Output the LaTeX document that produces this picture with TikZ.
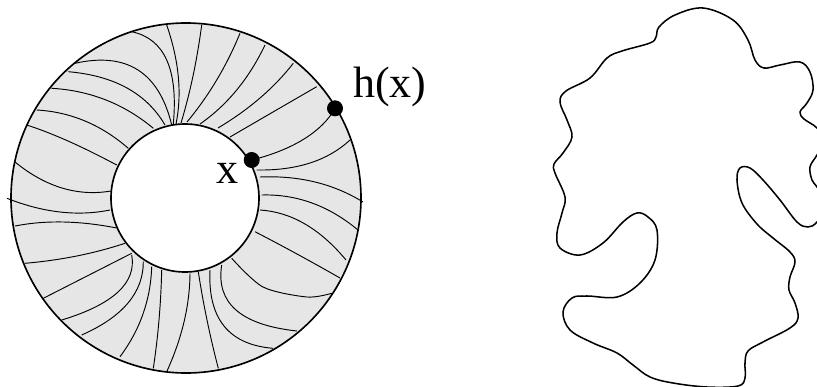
\documentclass[tikz,border=0pt]{standalone}
\usepackage{fontspec}
\setmainfont{Liberation Serif}
\definecolor{ringgray}{HTML}{E6E6E6}

\begin{document}
\begin{tikzpicture}[x=0.3mm, y=-0.3mm,
  fiber/.style={black, line width=0.8pt},
  rim/.style={black, line width=1.4pt},
  dot/.style={circle, fill=black, inner sep=0pt, minimum size=4.8mm},
  lbl/.style={font=\fontsize{37.5}{44}\selectfont, inner sep=0pt}]

% Frame
\useasboundingbox (0,0) rectangle (817,387);
\clip (0,0) rectangle (817,387);

% ================================================================
% LEFT: annulus with its fibres
% ================================================================
\coordinate (c-out) at (186,198);
\coordinate (c-in) at (185,198);

\fill[ringgray, even odd rule] (c-out) circle[radius=175] (c-in) circle[radius=74];

% fibres: inner end / point half way / outer end
\foreach \ax/\ay/\bx/\by/\cx/\cy
  [evaluate=\ax as \pa using {(4*\bx-\cx)/3},
   evaluate=\ay as \pb using {(4*\by-\cy)/3},
   evaluate=\cx as \qa using {(4*\bx-\ax)/3},
   evaluate=\cy as \qb using {(4*\by-\ay)/3}] in {
    176/124/178.3/76.7/166.7/25,
    181/123/193/76/201.7/25,
    187/122/216.7/80/240/33.3,
    200/124/236.7/90/265/45,
    218/128/260/98/293.3/63.3,
    230/137/273/112/316.7/86.7,
    256.7/170/310/163/350/140,
    260/177/315/182/363/202,
    261.7/195/312/203/358/230,
    260/210/305/224/346/260,
    255/231.7/297/254/340/278,
    221.7/265/236/310/297/331,
    210/270/224/326/273/348.3,
    198.3/271.7/207/320/218.3/368.3,
    190/273.3/184/322/166.7/371.7,
    161.7/270/159/320/153.3/368.3,
    151.7/266.7/143/314/120/356.7,
    143.3/261.7/128/303/81.7/335,
    131.7/255/118/292/61.7/320,
    131.7/253.3/87.5/275.8/43.3/298.3,
    125/243.3/76.7/256/25/263.3,
    116.7/228/63.3/222/15/226,
    110/210/60/212/7/198.3,
    111/191/62/188/15/162,
    116.7/165/68/141/26.7/125,
    128.3/148.3/85/121/36.7/110,
    153.3/128.3/106/100/51.7/88.3,
    165/125/127/88/68.3/71.7,
    171.7/125/138/70/75/63.3,
    173.3/124/166.7/60/131.7/31.7}
  \draw[fiber] (\ax,\ay) .. controls (\pa,\pb) and (\qa,\qb) .. (\cx,\cy);

\draw[fiber] plot[smooth] coordinates {(231.7,258.3) (263,287) (307,297) (331.7,293.3)};

% hole and rims
\fill[white] (c-in) circle[radius=74];
\draw[rim] (c-in) circle[radius=74];
\draw[rim] (c-out) circle[radius=175];

% the point and its image
\node[dot] (xdot) at (251.7,160) {};
\node[dot] (hdot) at (335,108.3) {};
\draw[fiber] (xdot.center) .. controls (292,150) and (322,132) .. (hdot.center);

\node[lbl, anchor=base] (x-label) at (227,183) {x};
\node[lbl, anchor=base west] (hx-label) at (353,97) {h(x)};

% ================================================================
% RIGHT: wiggly closed curve
% ================================================================
\draw[line width=1.3pt] plot[smooth cycle, tension=0.6] coordinates {
  (703,8) (733,20) (748,40) (755,60) (764,68) (780,65) (800,62)
  (810,72) (813,90) (807,103) (800,112) (804,119) (817,128)
  (824,141) (817,155) (810,167) (812,180) (817,187) (828,205)
  (817,222) (808,227) (797,222) (780,200) (763,180) (750,168)
  (740,168) (737,180) (742,203) (757,224) (773,238) (790,252)
  (795,262) (790,277) (789,290) (795,303) (798,318) (790,328)
  (763,342) (748,351) (745,363) (745,378) (738,386) (707,387)
  (673,383) (650,377) (633,365) (617,353) (593,343) (570,330)
  (563,312) (572,298) (587,296) (617,297) (640,283) (655,260)
  (657,230) (648,217) (637,213) (623,222) (603,243) (580,255)
  (560,248) (557,233) (562,213) (565,197) (555,173) (554,164)
  (563,153) (572,137) (567,120) (560,102) (566,91) (590,78)
  (607,58) (622,51) (650,43) (656,37) (659,27) (675,15)};

\end{tikzpicture}
\end{document}
